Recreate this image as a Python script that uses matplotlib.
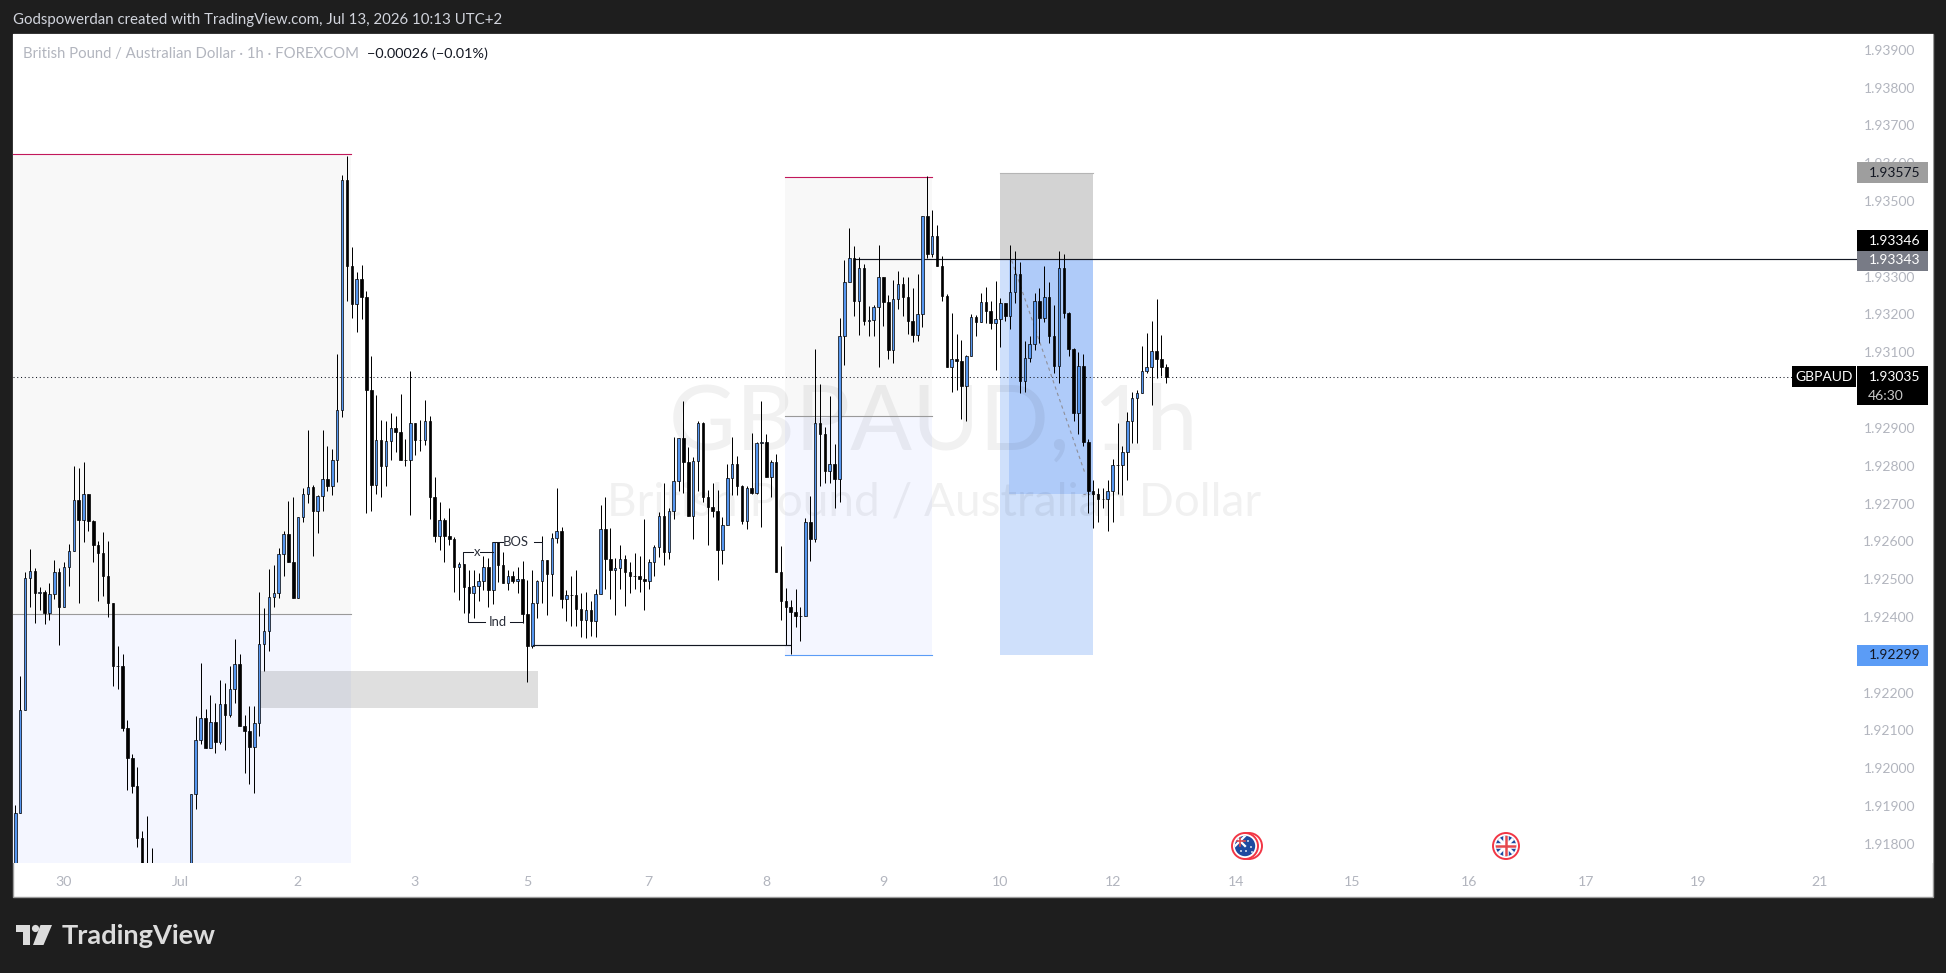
import matplotlib
matplotlib.use('Agg')
import matplotlib.pyplot as plt
from matplotlib.lines import Line2D
from matplotlib.patches import Circle, Polygon, Rectangle
from matplotlib.transforms import Affine2D
import numpy as np

W, H = 1946, 973
FONT = 'Lato'
plt.rcParams['font.family'] = [FONT, 'DejaVu Sans']

# hourly candles, prices in points above 1.90000 (1 point = 0.00001)
closes = [
    1881, 2153, 2502, 2521, 2464, 2465, 2411, 2460, 2518, 2425,
    2531, 2574, 2709, 2657, 2724, 2655, 2591, 2568, 2507, 2438,
    2269, 2269, 2105, 2028, 1954, 1814, 1720, 1700, 1690, 1680,
    1670, 1660, 1650, 1660, 1680, 1700, 1931, 2074, 2132, 2053,
    2121, 2069, 2169, 2140, 2209, 2275, 2111, 2099, 2057, 2119,
    2328, 2362, 2452, 2463, 2566, 2619, 2544, 2451, 2664, 2725,
    2743, 2681, 2719, 2764, 2747, 2814, 2947, 3555, 3327, 3229,
    3293, 3245, 2999, 2750, 2867, 2798, 2865, 2899, 2888, 2814,
    2816, 2912, 2867, 2867, 2918, 2718, 2613, 2656, 2615, 2607,
    2531, 2539, 2480, 2464, 2481, 2494, 2531, 2470, 2598, 2536,
    2491, 2508, 2496, 2501, 2408, 2322, 2436, 2495, 2550, 2513,
    2608, 2627, 2447, 2457, 2457, 2422, 2392, 2418, 2388, 2460,
    2632, 2554, 2523, 2529, 2553, 2520, 2509, 2509, 2501, 2496,
    2545, 2584, 2666, 2573, 2680, 2759, 2873, 2811, 2668, 2812,
    2913, 2717, 2690, 2679, 2576, 2642, 2767, 2804, 2745, 2654,
    2740, 2728, 2859, 2864, 2771, 2809, 2520, 2443, 2425, 2412,
    2403, 2402, 2650, 2607, 2912, 2885, 2785, 2805, 2766, 3143,
    3285, 3349, 3236, 3322, 3183, 3185, 3219, 3299, 3234, 3106,
    3240, 3280, 3247, 3182, 3146, 3201, 3460, 3360, 3407, 3327,
    3250, 3062, 3082, 3076, 3012, 3090, 3193, 3181, 3232, 3210,
    3177, 3188, 3230, 3195, 3259, 3307, 3023, 3084, 3121, 3235,
    3192, 3246, 3144, 3065, 3322, 3205, 3109, 2939, 3063, 2864,
    2732, 2724, 2713, 2713, 2732, 2801, 2801, 2836, 2918, 2978,
    2992, 3050, 3060, 3103, 3083, 3060, 3035]
highs = [
    1903, 2244, 2519, 2580, 2530, 2479, 2471, 2490, 2551, 2530,
    2546, 2593, 2799, 2794, 2810, 2724, 2656, 2601, 2625, 2601,
    2438, 2323, 2302, 2127, 2038, 2003, 1834, 1874, 1789, 1725,
    1710, 1700, 1690, 1690, 1700, 1720, 1931, 2138, 2278, 2156,
    2193, 2172, 2233, 2225, 2270, 2341, 2301, 2140, 2165, 2165,
    2465, 2424, 2526, 2537, 2582, 2628, 2707, 2717, 2664, 2741,
    2895, 2748, 2723, 2895, 2852, 2844, 3095, 3569, 3620, 3378,
    3313, 3330, 3262, 3091, 2986, 2921, 2919, 2940, 2932, 2990,
    2871, 3051, 2912, 2921, 2974, 2932, 2769, 2703, 2661, 2688,
    2611, 2546, 2540, 2523, 2523, 2516, 2560, 2556, 2599, 2599,
    2572, 2524, 2521, 2531, 2548, 2498, 2523, 2498, 2613, 2550,
    2621, 2741, 2637, 2472, 2507, 2524, 2463, 2465, 2441, 2474,
    2696, 2718, 2636, 2555, 2591, 2563, 2545, 2569, 2562, 2659,
    2553, 2589, 2677, 2754, 2688, 2875, 2873, 2970, 2849, 2824,
    2918, 2916, 2736, 2754, 2736, 2665, 2805, 2875, 2826, 2749,
    2745, 2886, 2864, 2971, 2884, 2815, 2831, 2588, 2476, 2445,
    2475, 2426, 2661, 2720, 3109, 3016, 2902, 2985, 2858, 3191,
    3344, 3428, 3382, 3351, 3334, 3223, 3225, 3384, 3299, 3252,
    3292, 3314, 3300, 3300, 3270, 3307, 3460, 3567, 3477, 3437,
    3355, 3254, 3203, 3149, 3133, 3093, 3202, 3199, 3256, 3272,
    3237, 3289, 3243, 3230, 3384, 3369, 3340, 3130, 3142, 3256,
    3270, 3328, 3285, 3225, 3368, 3360, 3207, 3111, 3102, 3096,
    2870, 2762, 2740, 2740, 2762, 2818, 2912, 2851, 2943, 2996,
    2999, 3117, 3152, 3182, 3240, 3146, 3068]
lows = [
    1600, 1881, 2153, 2425, 2385, 2419, 2382, 2392, 2448, 2327,
    2425, 2483, 2574, 2438, 2599, 2628, 2544, 2441, 2454, 2401,
    2216, 2210, 2099, 1941, 1935, 1792, 1650, 1640, 1640, 1640,
    1630, 1620, 1610, 1620, 1640, 1650, 1700, 1893, 2065, 2053,
    2053, 2039, 2065, 2049, 2135, 2172, 2111, 1988, 1959, 1933,
    2084, 2258, 2311, 2427, 2449, 2507, 2544, 2449, 2451, 2651,
    2702, 2562, 2621, 2679, 2732, 2723, 2758, 2930, 3237, 3192,
    3155, 3189, 2674, 2681, 2726, 2716, 2747, 2814, 2837, 2814,
    2798, 2670, 2829, 2840, 2854, 2660, 2597, 2576, 2546, 2590,
    2467, 2445, 2410, 2410, 2398, 2443, 2470, 2426, 2434, 2493,
    2491, 2471, 2491, 2463, 2383, 2229, 2317, 2396, 2436, 2405,
    2456, 2595, 2423, 2390, 2377, 2377, 2348, 2344, 2350, 2346,
    2460, 2475, 2448, 2404, 2473, 2430, 2463, 2473, 2467, 2417,
    2475, 2507, 2558, 2536, 2553, 2658, 2734, 2727, 2668, 2606,
    2732, 2705, 2589, 2665, 2498, 2540, 2642, 2723, 2723, 2645,
    2633, 2725, 2725, 2639, 2770, 2718, 2520, 2392, 2325, 2301,
    2372, 2337, 2402, 2549, 2599, 2747, 2754, 2755, 2687, 2703,
    3067, 3285, 3195, 3146, 3172, 3143, 3143, 3062, 3170, 3083,
    3073, 3214, 3195, 3148, 3128, 3131, 3168, 3349, 3353, 3327,
    3237, 3062, 2996, 3001, 2923, 2917, 3089, 3143, 3180, 3177,
    3161, 3052, 3113, 3183, 3162, 3230, 2993, 2996, 3075, 3106,
    3124, 3181, 3124, 3045, 3018, 3192, 3091, 2917, 2883, 2852,
    2676, 2636, 2650, 2688, 2626, 2652, 2726, 2723, 2761, 2861,
    2861, 2992, 3045, 2961, 3033, 3036, 3019]
first_open = 1650

price_ticks = [1.918 + 0.001 * i for i in range(22)]
time_tick_pos = [9.8, 33.8, 57.8, 81.9, 105, 129.9, 154, 178, 202, 225,
                 250.2, 274, 298, 322, 345, 370]
time_tick_labels = ['30', 'Jul', '2', '3', '5', '7', '8', '9', '10', '12',
                    '14', '15', '16', '17', '19', '21']

# pixels from the top left of the picture, for everything that is not data
px = Affine2D().scale(1, -1).translate(0, H)
PANE_L, PANE_R, PANE_T, PANE_B, AXIS_B = 13, 1933, 34, 863, 897

fig = plt.figure(figsize=(W / 100, H / 100), dpi=100, facecolor='#1e1e1e')
fig.add_artist(Rectangle((PANE_L, PANE_T), PANE_R - PANE_L, AXIS_B - PANE_T, transform=px,
                         facecolor='white', edgecolor='#9b9b9b', linewidth=1.0, zorder=-1))
ax = fig.add_axes([PANE_L / W, 1 - PANE_B / H, (PANE_R - PANE_L) / W, (PANE_B - PANE_T) / H])
ax.set_facecolor('white')
for s in ax.spines.values():
    s.set_visible(False)

STEP = 4.877
ax.set_xlim((PANE_L - 15.3) / STEP, (PANE_R - 15.3) / STEP)
ax.set_ylim(1.91749, 1.93942)

closes_p = 1.9 + np.array(closes) * 1e-5
highs_p = 1.9 + np.array(highs) * 1e-5
lows_p = 1.9 + np.array(lows) * 1e-5
opens_p = np.r_[1.9 + first_open * 1e-5, closes_p[:-1]]
xs = np.arange(len(closes))
up = closes_p >= opens_p

# drawings under the candles
RED, BLUE, GREY = '#c2185b', '#5b9cf6', '#9a9a9a'


def box(x0, x1, y0, y1, color, alpha, z=1):
    ax.add_patch(Rectangle((x0, y0), x1 - x0, y1 - y0, facecolor=color, alpha=alpha,
                           edgecolor='none', zorder=z))


for x0, x1, top, mid, bot in [(-0.5, 68.9, 1.93624, 1.92407, 1.91500),
                              (157.8, 188, 1.93563, 1.92931, 1.92299)]:
    box(x0, x1, mid, top, '#787b86', 0.05)
    box(x0, x1, bot, mid, '#2962ff', 0.05)
    ax.plot([x0, x1], [top, top], color=RED, lw=0.8, zorder=2)
    ax.plot([x0, x1], [mid, mid], color=GREY, lw=0.8, zorder=2)
    ax.plot([x0, x1], [bot, bot], color=BLUE, lw=0.8, zorder=2)

box(50.4, 107.2, 1.92159, 1.92257, '#808080', 0.25)
box(201.9, 220.9, 1.93344, 1.93575, '#7f7f7f', 0.34)
ax.plot([201.9, 220.9], [1.93575, 1.93575], color='#b5b5b5', lw=0.8, zorder=2)
box(201.9, 220.9, 1.92299, 1.93344, '#1e6ef0', 0.21)
box(203.8, 220.9, 1.92726, 1.93344, '#1e6ef0', 0.18)
ax.plot([204.3, 219.3], [1.93343, 1.92781], color='#8f8f99', lw=0.8, ls=(0, (3, 3)), zorder=2)
ax.plot([218.9, 222.2], [1.92724, 1.92724], color='#8f8f99', lw=0.8, ls=(0, (2, 2)), zorder=2)

ax.plot([172.2, (1857 - 15.3) / STEP], [1.93346, 1.93346], color='#131722', lw=0.85, zorder=2, clip_on=False)
ax.plot([106.1, 158.9], [1.92325, 1.92325], color='#131722', lw=0.85, zorder=4)
ax.plot([-0.5, (1792 - 15.3) / STEP], [1.93035, 1.93035], color='#131722', lw=0.75,
        ls=(0, (1, 2.6)), zorder=2)

# BOS / x / Ind markup
for sx, sy in [([97.9, 100.1], [1.92597, 1.92597]),
               ([106.4, 107.9, 107.9], [1.92597, 1.92597, 1.92551]),
               ([93.9, 91.9, 91.9], [1.92572, 1.92572, 1.92540]),
               ([95.3, 97.9], [1.92572, 1.92572]),
               ([96.3, 92.9, 92.9], [1.92386, 1.92386, 1.92480]),
               ([101.4, 104.2], [1.92386, 1.92386])]:
    ax.plot(sx, sy, color='#131722', lw=0.75, zorder=4)
for tx, ty, s in [(102.7, 1.92597, 'BOS'), (94.6, 1.92572, 'x'), (99, 1.92386, 'Ind')]:
    ax.text(tx, ty, s, ha='center', va='center', fontsize=9.4, color='#2a2e39', zorder=5)

# watermark
ax.text(933, 424, 'GBPAUD, 1h', transform=px, ha='center', va='center', fontsize=66,
        color='black', alpha=0.055, zorder=1.5, clip_on=False)
ax.text(934, 502, 'British Pound / Australian Dollar', transform=px, ha='center', va='center',
        fontsize=33, color='black', alpha=0.055, zorder=1.5, clip_on=False)

# candles
ax.vlines(xs, lows_p, highs_p, color='black', lw=0.72, zorder=3)
ax.bar(xs, np.abs(closes_p - opens_p), bottom=np.minimum(opens_p, closes_p), width=0.52,
       color=np.where(up, '#5596f0', 'black').tolist(), edgecolor='black', linewidth=0.5, zorder=3.5)

# axes
ax.yaxis.tick_right()
ax.set_yticks(price_ticks)
ax.set_yticklabels([f'{v:.5f}' for v in price_ticks])
ax.tick_params(axis='y', length=0, pad=-13, labelsize=10, labelcolor='#b2b5be')
for lab in ax.yaxis.get_majorticklabels():
    lab.set_ha('right')
ax.set_xticks(time_tick_pos)
ax.set_xticklabels(time_tick_labels)
ax.tick_params(axis='x', length=0, pad=9, labelsize=10.2, labelcolor='#b2b5be')


def top_of(v):
    return H - ax.transData.transform((0, v))[1]


def price_tag(v, text, fill, fg, text2=None):
    yc = top_of(v)
    h = 39 if text2 else 21
    yt = yc - 10.5
    fig.add_artist(Rectangle((1857, yt), 71, h, transform=px, facecolor=fill, edgecolor='none', zorder=2))
    fig.text(1920, yc, text, transform=px, ha='right', va='center', fontsize=10, color=fg, zorder=3)
    if text2:
        fig.text(1868, yc + 19, text2, transform=px, ha='left', va='center', fontsize=10,
                 color='#c8c8c8', zorder=3)


price_tag(1.93575, '1.93575', '#9e9e9e', '#131722')
price_tag(1.93343, '1.93343', '#787b86', 'white')
price_tag(1.93343 + 0.00052, '1.93346', 'black', 'white')
price_tag(1.93035, '1.93035', 'black', 'white', '46:30')
price_tag(1.92299, '1.92299', BLUE, '#131722')
fig.add_artist(Rectangle((1792, top_of(1.93035) - 10.5), 64, 21, transform=px, facecolor='black',
                         edgecolor='none', zorder=2))
fig.text(1824, top_of(1.93035), 'GBPAUD', transform=px, ha='center', va='center', fontsize=10,
         color='white', zorder=3)

# header and footer text
fig.text(13, 20, 'Godspowerdan created with TradingView.com, Jul 13, 2026 10:13 UTC+2', transform=px,
         va='center', fontsize=10.84, color='#d1d4dc')
fig.text(23, 54, 'British Pound / Australian Dollar · 1h · FOREXCOM', transform=px, va='center',
         fontsize=10.7, color='#b2b5be', zorder=3)
fig.text(367, 54, '\u22120.00026 (\u22120.01%)', transform=px, va='center', fontsize=10.4,
         color='#131722', zorder=3)
fig.text(62, 936, 'TradingView', transform=px, va='center', fontsize=19.6, color='#dcdcdc', weight='bold')

# TradingView logo
LOGO = '#dcdcdc'
fig.add_artist(Polygon([(15.5, 925), (30, 925), (30, 945), (23, 945), (23, 932), (15.5, 932)],
                       transform=px, facecolor=LOGO, edgecolor='none'))
fig.add_artist(Circle((35.5, 928.5), 3.6, transform=px, facecolor=LOGO, edgecolor='none'))
fig.add_artist(Polygon([(40.5, 925), (52, 925), (43.5, 945), (33, 945)], transform=px,
                       facecolor=LOGO, edgecolor='none'))


# event flags on the time scale
def flag(cx, cy, extra_ring=False):
    if extra_ring:
        fig.add_artist(Circle((cx + 4, cy), 13, transform=px, facecolor='white', edgecolor='#f23645',
                              linewidth=1.4, zorder=2))
    fig.add_artist(Circle((cx, cy), 13, transform=px, facecolor='white', edgecolor='#f23645',
                          linewidth=1.4, zorder=2))
    inner = Circle((cx, cy), 10.2, transform=px, facecolor='#1e4aa0', edgecolor='none', zorder=2.1)
    fig.add_artist(inner)
    return inner


au = flag(1245, 846, True)
for dx, dy in [(3, -5), (6, 1), (1, 5), (7, 6), (-4, 5)]:
    fig.add_artist(Circle((1245 + dx, 846 + dy), 0.9, transform=px, facecolor='white', edgecolor='none', zorder=2.2))
for sx, sy, c, lw in [([1235, 1245], [836, 846], 'white', 1.6), ([1235, 1245], [846, 836], 'white', 1.6),
                      ([1240, 1240], [836, 846], '#e5484d', 1.2), ([1235, 1245], [841, 841], '#e5484d', 1.2)]:
    ln = Line2D(sx, sy, transform=px, color=c, lw=lw, zorder=2.2)
    fig.add_artist(ln)
    ln.set_clip_path(au)

uk = flag(1506, 846)
for sx, sy, c, lw in [([1496, 1516], [836, 856], 'white', 2.2), ([1496, 1516], [856, 836], 'white', 2.2),
                      ([1506, 1506], [835, 857], 'white', 4), ([1495, 1517], [846, 846], 'white', 4),
                      ([1506, 1506], [835, 857], '#e5484d', 1.8), ([1495, 1517], [846, 846], '#e5484d', 1.8)]:
    ln = Line2D(sx, sy, transform=px, color=c, lw=lw, zorder=2.2)
    fig.add_artist(ln)
    ln.set_clip_path(uk)

fig.savefig('out.png', dpi=100, facecolor=fig.get_facecolor())
plt.close(fig)
